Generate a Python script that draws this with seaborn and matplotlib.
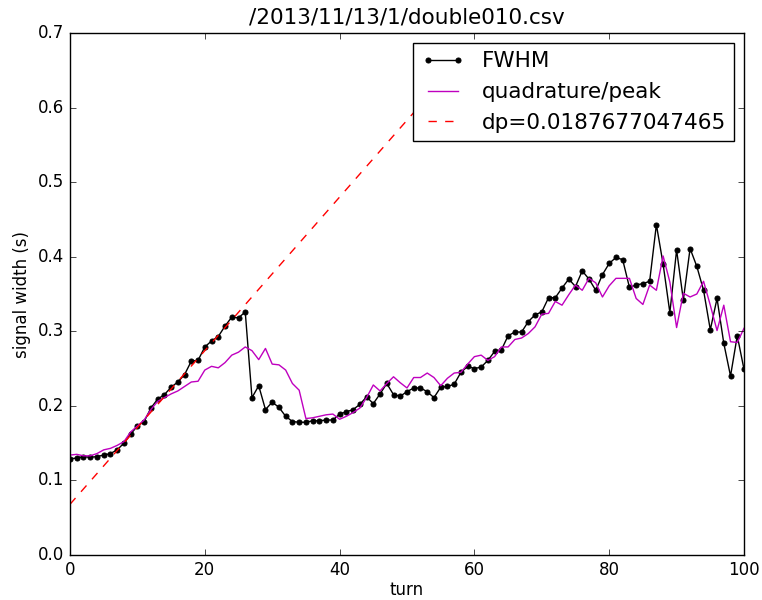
import numpy as np
import pandas as pd
import matplotlib
matplotlib.use("Agg")
import matplotlib.pyplot as plt
import seaborn as sns

turns = list(range(101))
fwhm = [0.129, 0.130, 0.132, 0.131, 0.132, 0.134, 0.136, 0.141, 0.150, 0.162,
        0.173, 0.179, 0.197, 0.209, 0.215, 0.225, 0.232, 0.242, 0.260, 0.261,
        0.279, 0.287, 0.293, 0.307, 0.319, 0.318, 0.326, 0.211, 0.227, 0.195,
        0.205, 0.198, 0.186, 0.179, 0.178, 0.178, 0.180, 0.180, 0.181, 0.181,
        0.189, 0.192, 0.195, 0.202, 0.212, 0.203, 0.216, 0.230, 0.215, 0.213,
        0.219, 0.224, 0.224, 0.219, 0.211, 0.225, 0.226, 0.229, 0.245, 0.253,
        0.250, 0.252, 0.261, 0.273, 0.275, 0.294, 0.299, 0.299, 0.313, 0.322,
        0.326, 0.345, 0.345, 0.358, 0.370, 0.360, 0.381, 0.370, 0.355, 0.376,
        0.391, 0.399, 0.396, 0.359, 0.362, 0.364, 0.367, 0.443, 0.390, 0.325,
        0.409, 0.342, 0.411, 0.387, 0.355, 0.302, 0.344, 0.284, 0.240, 0.294,
        0.249]
quad_peak = [0.134, 0.135, 0.133, 0.133, 0.136, 0.141, 0.143, 0.147, 0.152, 0.165,
             0.173, 0.181, 0.195, 0.206, 0.211, 0.216, 0.220, 0.226, 0.232, 0.233,
             0.248, 0.253, 0.251, 0.258, 0.268, 0.272, 0.279, 0.274, 0.262, 0.277,
             0.256, 0.255, 0.248, 0.230, 0.221, 0.183, 0.184, 0.186, 0.188, 0.189,
             0.182, 0.186, 0.191, 0.197, 0.211, 0.228, 0.220, 0.230, 0.239, 0.231,
             0.224, 0.238, 0.238, 0.244, 0.238, 0.227, 0.237, 0.244, 0.245, 0.256,
             0.266, 0.268, 0.261, 0.266, 0.279, 0.279, 0.289, 0.291, 0.297, 0.306,
             0.323, 0.324, 0.340, 0.335, 0.349, 0.362, 0.355, 0.371, 0.365, 0.346,
             0.361, 0.371, 0.371, 0.371, 0.344, 0.336, 0.362, 0.355, 0.401, 0.366,
             0.305, 0.351, 0.346, 0.350, 0.367, 0.335, 0.301, 0.335, 0.286, 0.285,
             0.304]
dp_intercept = 0.068
dp_slope = 0.01030
dp_range = [0, 55]
dp_label = "dp=0.0187677047465"
title = "/2013/11/13/1/double010.csv"

plt.style.use("classic")
plt.rcParams["font.family"] = ["DejaVu Sans"]

df = pd.DataFrame({"turn": turns, "FWHM": fwhm, "quadrature/peak": quad_peak})
fit_x = np.array(dp_range, dtype=float)
fit_df = pd.DataFrame({"turn": fit_x, "fit": dp_intercept + dp_slope * fit_x})

fig = plt.figure(figsize=(7.62, 6.0), dpi=100, facecolor="white")
ax = fig.add_axes([70 / 762, 45 / 600, 674 / 762, 522 / 600])
ax.set_facecolor("white")

sns.lineplot(data=df, x="turn", y="FWHM", ax=ax, color="black", lw=1.0,
             marker="o", markersize=3.6, markeredgecolor="black",
             label="FWHM")
sns.lineplot(data=df, x="turn", y="quadrature/peak", ax=ax, color=(0.75, 0, 0.75),
             lw=1.0, label="quadrature/peak")
sns.lineplot(data=fit_df, x="turn", y="fit", ax=ax, color="red", lw=1.0,
             linestyle="--", label=dp_label)

ax.set_xlim(0, 100)
ax.set_ylim(0, 0.7)
ax.set_xticks([0, 20, 40, 60, 80, 100])
ax.set_yticks(np.arange(0, 0.71, 0.1))
ax.set_yticklabels([f"{v:.1f}" for v in np.arange(0, 0.71, 0.1)])
ax.set_xlabel("turn", fontsize=12, labelpad=2)
ax.set_ylabel("signal width (s)", fontsize=12)
ax.set_title(title, fontsize=15.5, y=1.005)
ax.tick_params(labelsize=12)
leg = ax.legend(loc="upper right", numpoints=2, fancybox=False, fontsize=15.5,
                framealpha=1, borderaxespad=0.45)
leg.get_frame().set_edgecolor("black")

fig.savefig("out.png", dpi=100, facecolor="white")
